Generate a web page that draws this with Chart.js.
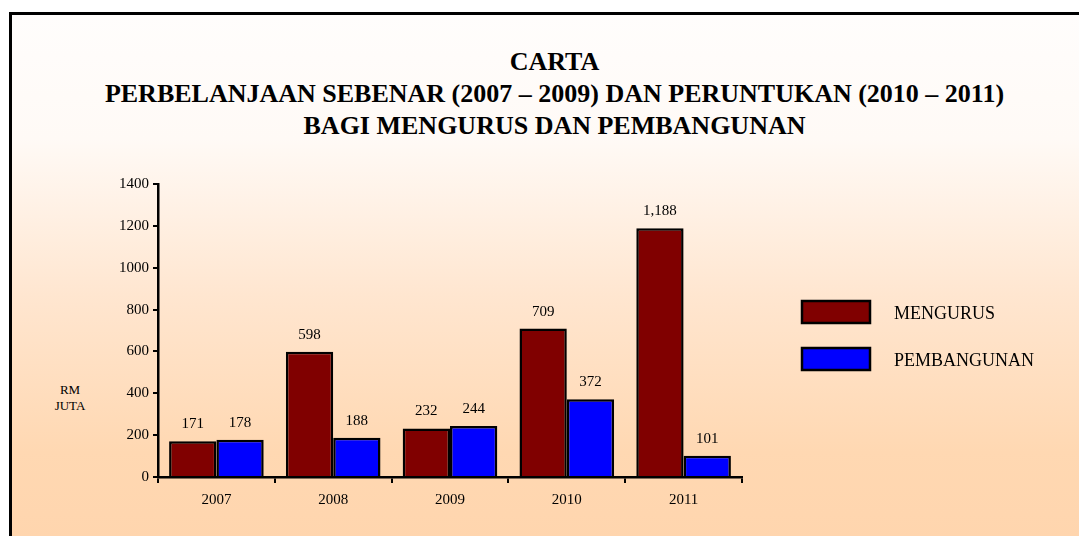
<!DOCTYPE html>
<html>
<head>
<meta charset="utf-8">
<script src="https://cdn.jsdelivr.net/npm/chart.js@4.4.1/dist/chart.umd.min.js"></script>
<style>
  html, body { margin: 0; padding: 0; width: 1079px; height: 536px; overflow: hidden; background: #ffffff; }
  #frame {
    position: absolute; left: 9px; top: 12px; width: 1100px; height: 560px;
    border-left: 3px solid #000; border-top: 3px solid #000;
    background: linear-gradient(to bottom, #fffdfc 0%, #fffaf6 22%, #ffe6d0 50%, #ffd8b2 78%, #ffd4ac 100%);
  }
  #title {
    position: absolute; left: 0; width: 1109px; top: 46px; text-align: center;
    font-family: "Liberation Serif", "Times New Roman", serif; font-weight: bold;
    font-size: 26px; line-height: 32px; color: #000;
  }
  #ylab {
    position: absolute; left: 40px; width: 60px; top: 382px; text-align: center;
    font-family: "Liberation Serif", "Times New Roman", serif; font-size: 13px; line-height: 16px; color: #000;
  }
  #c { position: absolute; left: 0; top: 0; }
</style>
</head>
<body>
<div id="frame"></div>
<div id="title">CARTA<br>PERBELANJAAN SEBENAR (2007 – 2009) DAN PERUNTUKAN (2010 – 2011)<br>BAGI MENGURUS DAN PEMBANGUNAN</div>
<div id="ylab">RM<br>JUTA</div>
<canvas id="c" width="1079" height="536"></canvas>
<script>
const categories = ["2007", "2008", "2009", "2010", "2011"];
const mengurus = [171, 598, 232, 709, 1188];
const pembangunan = [178, 188, 244, 372, 101];
const seriesNames = ["MENGURUS", "PEMBANGUNAN"];
const yTicks = [0, 200, 400, 600, 800, 1000, 1200, 1400];

const SERIF = '"Liberation Serif", "Times New Roman", serif';

const dataLabels = {
  id: 'dataLabels',
  afterDatasetsDraw(chart) {
    const ctx = chart.ctx;
    ctx.save();
    ctx.font = '15px ' + SERIF;
    ctx.fillStyle = '#000';
    ctx.textAlign = 'center';
    ctx.textBaseline = 'middle';
    chart.data.datasets.forEach((ds, i) => {
      chart.getDatasetMeta(i).data.forEach((el, j) => {
        ctx.fillText(ds.data[j].toLocaleString('en-US'), el.x, el.y - 17);
      });
    });
    ctx.restore();
  }
};

const boxLegend = {
  id: 'boxLegend',
  afterDraw(chart) {
    const ctx = chart.ctx;
    ctx.save();
    chart.data.datasets.forEach((ds, i) => {
      const x = 802, y = 301 + i * 47, w = 68, h = 22;
      ctx.fillStyle = ds.backgroundColor;
      ctx.fillRect(x, y, w, h);
      ctx.strokeStyle = '#000';
      ctx.lineWidth = 2.5;
      ctx.strokeRect(x, y, w, h);
      ctx.fillStyle = '#000';
      ctx.font = '18px ' + SERIF;
      ctx.textAlign = 'left';
      ctx.textBaseline = 'middle';
      ctx.fillText(ds.label, 894, y + h / 2 + 2);
    });
    ctx.restore();
  }
};

new Chart(document.getElementById('c'), {
  type: 'bar',
  data: {
    labels: categories,
    datasets: [
      { label: seriesNames[0], data: mengurus, backgroundColor: '#800000', borderColor: '#000', borderWidth: 2.5 },
      { label: seriesNames[1], data: pembangunan, backgroundColor: '#0000ff', borderColor: '#000', borderWidth: 2.5 }
    ]
  },
  options: {
    responsive: false,
    animation: false,
    devicePixelRatio: 1,
    layout: { padding: { top: 184, left: 0, right: 337, bottom: 19 } },
    datasets: { bar: { categoryPercentage: 0.81, barPercentage: 1.0 } },
    plugins: {
      legend: { display: false },
      title: { display: false },
      tooltip: { enabled: false }
    },
    scales: {
      x: {
        type: 'category',
        afterFit(s) { s.height = 40; },
        grid: { display: true, drawOnChartArea: false, drawTicks: true, tickLength: 6, color: '#000', lineWidth: 2, offset: true },
        border: { display: true, color: '#000', width: 2.5 },
        ticks: { color: '#000', font: { family: SERIF, size: 15 }, padding: 8, maxRotation: 0 }
      },
      y: {
        min: 0, max: 1400,
        afterFit(s) { s.width = 158; },
        afterBuildTicks(s) { s.ticks = yTicks.map(v => ({ value: v })); },
        grid: { display: true, drawOnChartArea: false, drawTicks: true, tickLength: 5, color: '#000', lineWidth: 2 },
        border: { display: true, color: '#000', width: 2.5 },
        ticks: { color: '#000', font: { family: SERIF, size: 15 }, padding: 4, callback: (v) => String(v) }
      }
    }
  },
  plugins: [dataLabels, boxLegend]
});
</script>
</body>
</html>
